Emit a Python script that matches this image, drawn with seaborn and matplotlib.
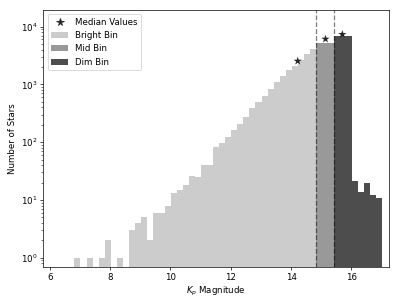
import numpy as np
import pandas as pd
import matplotlib
matplotlib.use("Agg")
import matplotlib.pyplot as plt
from matplotlib.patches import Patch
from matplotlib.lines import Line2D
import seaborn as sns

# histogram bin grid (Kp magnitude), 0.2 mag wide
bin_edges = [round(v, 2) for v in np.arange(6.82, 17.03, 0.2)]

bright_counts = [1, 0, 1, 0, 1, 2, 0, 1, 0, 3, 4, 5, 2, 6, 6, 8, 13, 15, 18, 26,
                 25, 40, 40, 82, 96, 125, 160, 205, 268, 389, 494, 635, 819, 1096,
                 1393, 1767, 2074, 2634, 3300, 4080]
mid_counts = [5100, 5100, 5100]
dim_counts = [7000, 7000, 7000, 21, 14, 20, 12, 11]

bin_boundaries = [14.81, 15.42]
median_mag = [14.22, 15.14, 15.70]
median_count = [2530, 6080, 7330]

group_names = ["Bright Bin", "Mid Bin", "Dim Bin"]
group_colors = ["0.8", "0.6", "0.3"]

edges = np.array(bin_edges)
centers = (edges[:-1] + edges[1:]) / 2
all_counts = bright_counts + mid_counts + dim_counts
groups = (["Bright Bin"] * len(bright_counts) + ["Mid Bin"] * len(mid_counts)
          + ["Dim Bin"] * len(dim_counts))
df = pd.DataFrame({"mag": centers, "count": all_counts, "group": groups})

dpi = 62.2
fig = plt.figure(figsize=(6.4, 4.904), dpi=dpi)
ax = fig.add_axes([0.109, 0.126, 0.867, 0.841])

for name, col in zip(group_names, group_colors):
    sub = df[(df["group"] == name) & (df["count"] > 0)]
    sns.histplot(data=sub, x="mag", weights="count", bins=bin_edges, color=col,
                 alpha=1, linewidth=0, edgecolor="none", ax=ax)

ax.set_yscale("log")
for b in bin_boundaries:
    ax.axvline(b, color="k", alpha=0.5, ls="--", lw=1.5)

sns.scatterplot(x=median_mag, y=median_count, marker="*", s=100, color="0.15",
                edgecolor="none", ax=ax, zorder=5)

ax.set_xlim(5.79, 17.23)
ax.set_ylim(0.705, 19300)
ax.set_xlabel("$K_p$ Magnitude")
ax.set_ylabel("Number of Stars")

handles = [Line2D([], [], marker="*", color="0.15", ls="none", markersize=9)]
handles += [Patch(facecolor=c, edgecolor="none") for c in group_colors]
ax.legend(handles, ["Median Values"] + group_names, loc="upper left")

fig.savefig("out.png", dpi=dpi)
